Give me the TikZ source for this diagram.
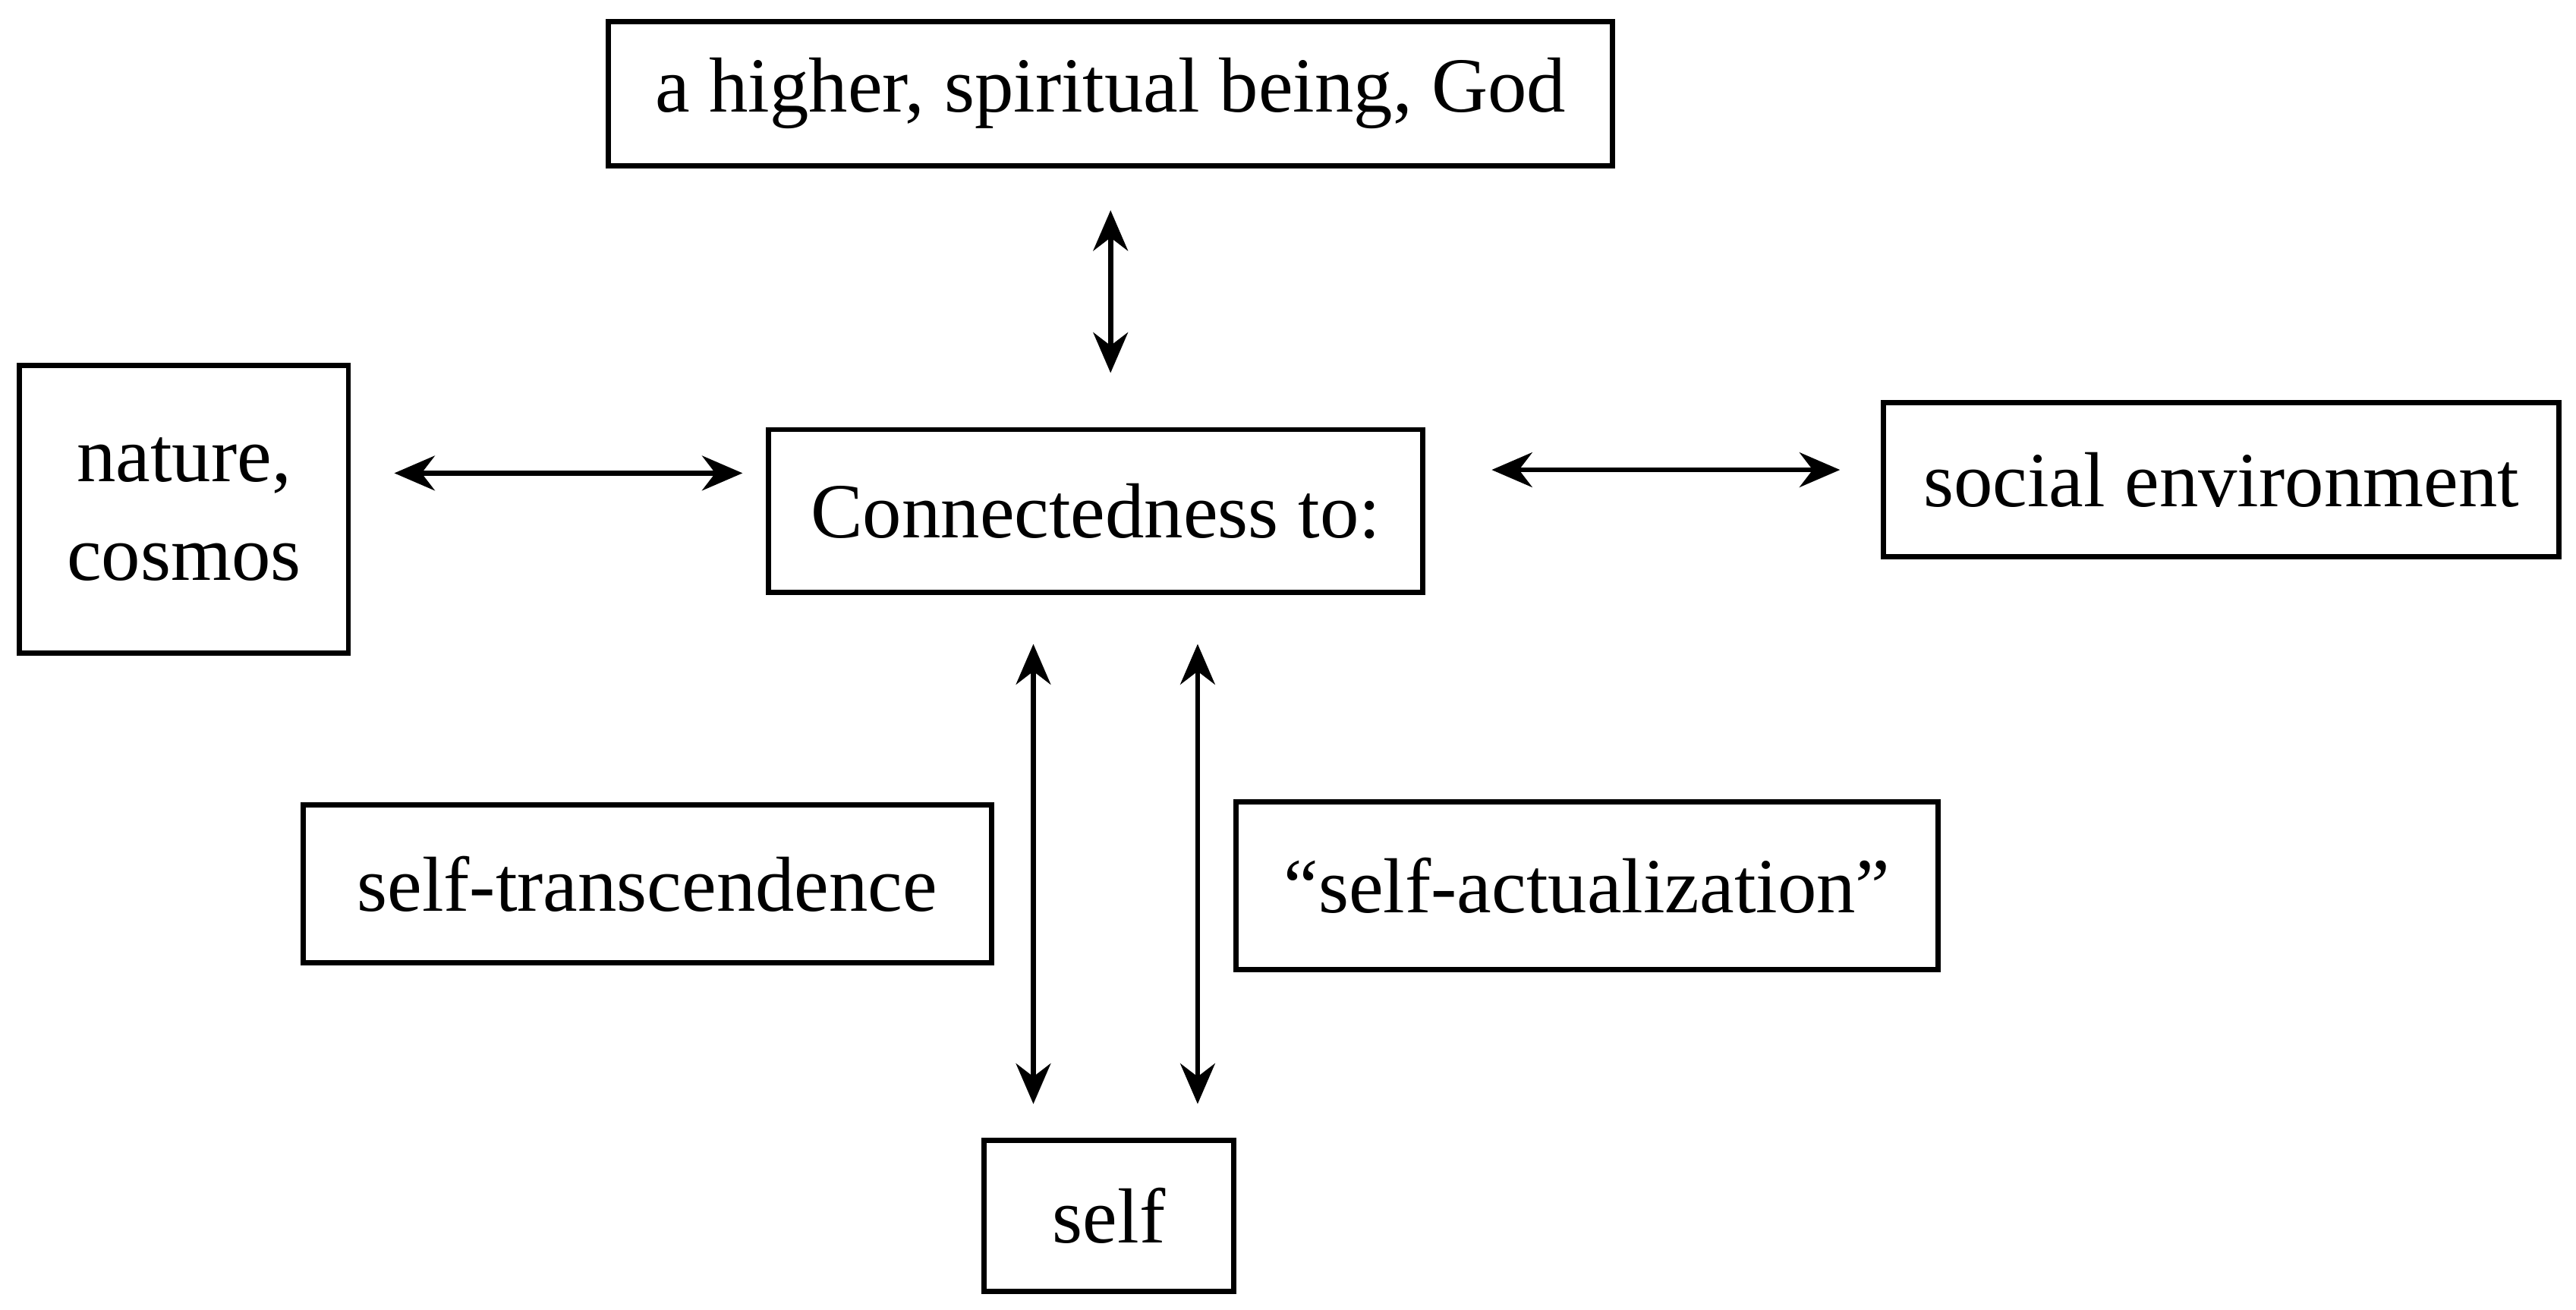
\documentclass[tikz,border=0pt]{standalone}
\usepackage{fontspec}
\setmainfont{Liberation Serif}
\usetikzlibrary{arrows.meta}
\begin{document}
\begin{tikzpicture}[x=0.01cm,y=-0.01cm,
  box/.style={draw,line width=0.9pt,inner sep=0pt,font=\fontsize{13.5}{17}\selectfont,align=center},
  link/.style={line width=0.9pt,{Stealth[length=7pt,width=6pt]}-{Stealth[length=7pt,width=6pt]}}]
\useasboundingbox (0,0) rectangle (1568,797);
\node[box,minimum width=611\pgflinewidth*0+6.11cm,minimum height=0.88cm] (god) at (676,57) {a higher, spiritual being, God};
\node[box,minimum width=2.00cm,minimum height=1.75cm] (nat) at (112,310) {nature,\\cosmos};
\node[box,minimum width=3.98cm,minimum height=0.99cm] (con) at (667,311) {Connectedness to:};
\node[box,minimum width=4.11cm,minimum height=0.94cm] (soc) at (1352,292) {social environment};
\node[box,minimum width=4.19cm,minimum height=0.96cm] (tra) at (394,538) {self-transcendence};
\node[box,minimum width=4.27cm,minimum height=1.02cm] (act) at (966,539) {“self-actualization”};
\node[box,minimum width=1.52cm,minimum height=0.92cm] (self) at (675,740) {self};
\coordinate (a1) at (676,128); \coordinate (a2) at (676,227);
\coordinate (b1) at (240,288); \coordinate (b2) at (452,288);
\coordinate (c1) at (908,286); \coordinate (c2) at (1120,286);
\coordinate (d1) at (629,392); \coordinate (d2) at (629,672);
\coordinate (e1) at (729,392); \coordinate (e2) at (729,672);
\draw[link] (a1) -- (a2);
\draw[link] (b1) -- (b2);
\draw[link] (c1) -- (c2);
\draw[link] (d1) -- (d2);
\draw[link] (e1) -- (e2);
\end{tikzpicture}
\end{document}
